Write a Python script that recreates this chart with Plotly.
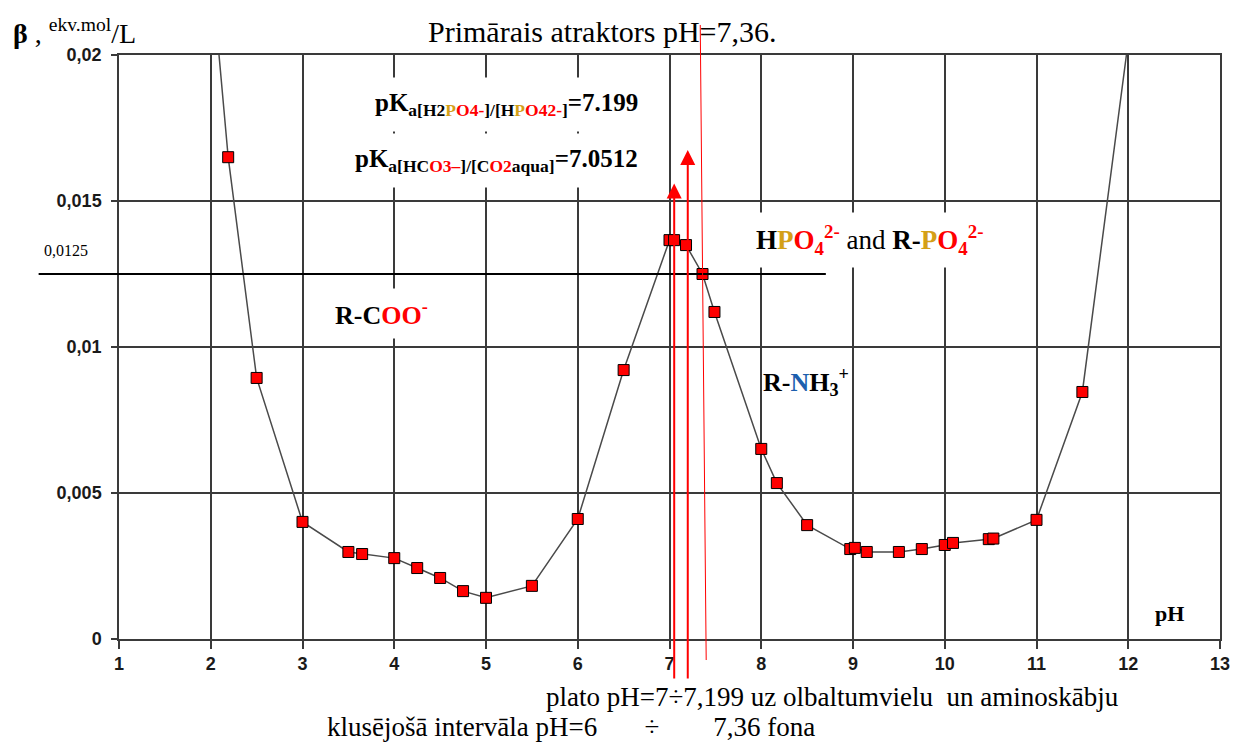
import plotly.graph_objects as go

# Buffer capacity curve: pH vs beta (ekv.mol/L)
ph = [2.19, 2.50, 3.00, 3.50, 3.65, 4.00, 4.25, 4.50, 4.75, 5.00, 5.50, 6.00,
      6.50, 7.00, 7.05, 7.18, 7.36, 7.49, 8.00, 8.17, 8.50, 8.97, 9.02, 9.15,
      9.50, 9.75, 10.00, 10.09, 10.48, 10.53, 11.00, 11.50]
beta = [0.01650, 0.00894, 0.00401, 0.00298, 0.00291, 0.00277, 0.00243, 0.00209,
        0.00164, 0.00141, 0.00182, 0.00411, 0.00921, 0.01366, 0.01366, 0.01349,
        0.01250, 0.01120, 0.00651, 0.00534, 0.00390, 0.00308, 0.00312, 0.00298,
        0.00298, 0.00308, 0.00322, 0.00329, 0.00342, 0.00344, 0.00408, 0.00846]

# where the curve leaves the top of the scale
ph_exit = [2.09, 11.98]
beta_exit = [0.020, 0.020]

# reference levels
beta_level = 0.0125
pka_co2 = 7.0512
pka_phos = 7.199
ph_attractor = [7.335, 7.40]

x_ticks = list(range(1, 14))
y_ticks = [0, 0.005, 0.01, 0.015, 0.02]

RED = "#ff0000"
GOLD = "#d4a017"
BLUE = "#1c5fae"
SERIF = "Liberation Serif, Times New Roman, serif"

curve_x = [ph_exit[0]] + ph + [ph_exit[1]]
curve_y = [beta_exit[0]] + beta + [beta_exit[1]]

fig = go.Figure()
fig.add_trace(go.Scatter(
    x=curve_x, y=curve_y, mode="lines",
    line=dict(color="#4a4a4a", width=1.5),
    hoverinfo="skip", showlegend=False,
))
fig.add_trace(go.Scatter(
    x=ph, y=beta, mode="markers",
    marker=dict(symbol="square", size=11, color=RED,
                line=dict(color="black", width=1)),
    showlegend=False,
))

axis_common = dict(
    showgrid=True, gridcolor="#3a3a3a", gridwidth=1.5,
    showline=True, linecolor="#3a3a3a", linewidth=1.5, mirror=True,
    ticks="outside", tickcolor="#3a3a3a", tickwidth=1.5,
    zeroline=False,
    tickfont=dict(family="Liberation Sans, Arial, sans-serif", size=18,
                  color="#1a1a1a", weight="bold"),
)
fig.update_xaxes(range=[1, 13], tickvals=x_ticks, ticklen=8, **axis_common)
fig.update_yaxes(range=[0, 0.02], tickvals=y_ticks, ticklen=6,
                 ticklabelstandoff=6, **axis_common)

shapes = [
    # beta = 0,0125 level
    dict(type="line", xref="paper", yref="y", x0=-0.073, x1=0.642,
         y0=beta_level, y1=beta_level, line=dict(color="black", width=2)),
    # primary attractor pH 7,36
    dict(type="line", xref="x", yref="paper", x0=ph_attractor[0], x1=ph_attractor[1],
         y0=1.0514, y1=-0.036, line=dict(color=RED, width=1)),
]

annotations = []

# pKa arrows
for pka, tip in [(pka_co2, 0.0156), (pka_phos, 0.01675)]:
    annotations.append(dict(
        x=pka, y=tip, xref="x", yref="y", ax=pka, ay=-0.0014, axref="x", ayref="y",
        text="", showarrow=True, arrowhead=2, arrowsize=1.5, arrowwidth=2,
        arrowcolor=RED,
    ))

def gold(s):
    return f"<span style='color:{GOLD}'>{s}</span>"

def red(s):
    return f"<span style='color:{RED}'>{s}</span>"

pka_phos_text = ("<b>pK<sub>a[H2" + gold("P") + red("O4-") + "]/[H" + gold("P")
                 + red("O42-") + "]</sub>=7.199</b>")
pka_co2_text = ("<b>pK<sub>a[HC" + red("O3–") + "]/[C" + red("O2")
                + "aqua]</sub>=7.0512</b>")

label = dict(showarrow=False, xanchor="center", yanchor="middle")

annotations += [
    dict(text=pka_phos_text, x=5.227, y=(639 - 104) / 29200, xref="x", yref="y",
         font=dict(family=SERIF, size=25, color="black"),
         bgcolor="white", borderpad=11, **label),
    dict(text=pka_co2_text, x=5.119, y=(639 - 160) / 29200, xref="x", yref="y",
         font=dict(family=SERIF, size=25, color="black"),
         bgcolor="white", borderpad=11, **label),
    dict(text="<b>H" + gold("P") + red("O<sub>4</sub><sup>2-</sup>") + "</b> and <b>R-"
         + gold("P") + red("O<sub>4</sub><sup>2-</sup>") + "</b>",
         x=9.18, y=0.01366, xref="x", yref="y",
         font=dict(family=SERIF, size=27, color="black"), bgcolor="white",
         borderpad=8, **label),
    dict(text="<b>R-C" + red("OO<sup>-</sup>") + "</b>",
         x=3.865, y=0.01116, xref="x", yref="y",
         font=dict(family=SERIF, size=26, color="black"), bgcolor="white",
         borderpad=8, **label),
    dict(text="<b>R-" + f"<span style='color:{BLUE}'>N</span>" + "H<sub>3</sub><sup>+</sup></b>",
         x=8.49, y=0.0088, xref="x", yref="y",
         font=dict(family=SERIF, size=26, color="black"), **label),
    dict(text="<b>pH</b>", x=12.45, y=0.00089, xref="x", yref="y",
         font=dict(family=SERIF, size=22, color="black"), **label),
    dict(text="0,0125", x=-0.0477, y=(639 - 250) / 29200, xref="paper", yref="y",
         font=dict(family=SERIF, size=16, color="black"), **label),
    dict(text="Primārais atraktors pH=7,36.", x=0.4396, y=1.0394, xref="paper",
         yref="paper", font=dict(family=SERIF, size=30, color="black"), **label),
]

side_label = dict(showarrow=False, xanchor="left", yanchor="middle")
annotations += [
    dict(text="<b>β</b> , <sup>ekv.mol</sup>/L", x=-0.0982, y=1.0394, xref="paper",
         yref="paper", font=dict(family=SERIF, size=28, color="black"), **side_label),
    dict(text="plato pH=7÷7,199 uz olbaltumvielu\u00a0 un aminoskābju",
         x=0.3856, y=-0.0993, xref="paper", yref="paper",
         font=dict(family=SERIF, size=27, color="black"), **side_label),
    dict(text="klusējošā intervāla pH=6" + "\u00a0" * 7 + "÷" + "\u00a0" * 8 + "7,36 fona",
         x=0.1874, y=-0.1507, xref="paper", yref="paper",
         font=dict(family=SERIF, size=27, color="black"), **side_label),
]

fig.update_layout(
    width=1242, height=742,
    margin=dict(l=119, r=13, t=55, b=103),
    paper_bgcolor="white", plot_bgcolor="white",
    separators=",.",
    shapes=shapes, annotations=annotations,
    showlegend=False,
)

fig.write_html("out.html")
